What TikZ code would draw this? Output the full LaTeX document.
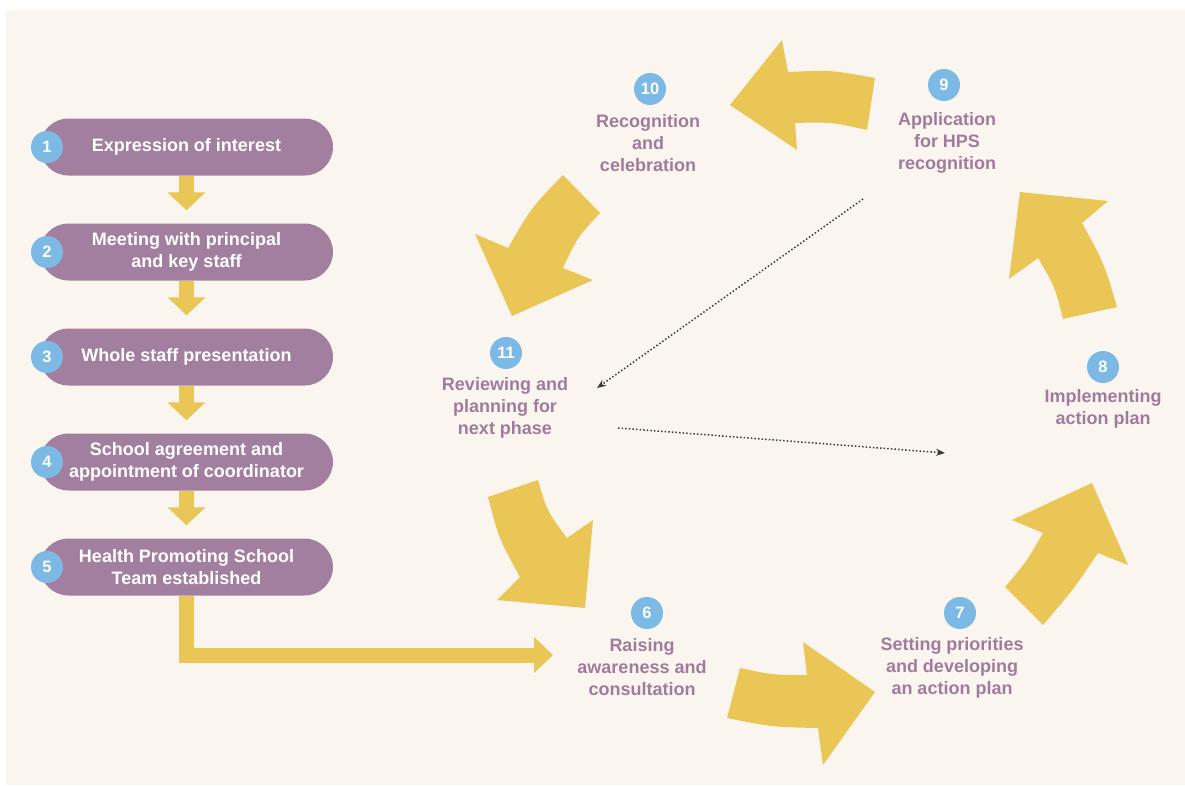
\documentclass[tikz,border=0pt]{standalone}
\usepackage{fontspec}
\setmainfont{Liberation Sans}
\usetikzlibrary{arrows.meta}
\definecolor{cream}{HTML}{FAF6EF}
\definecolor{pillc}{HTML}{A37F9F}
\definecolor{labc}{HTML}{A07B9C}
\definecolor{bluec}{HTML}{7CB9E4}
\definecolor{yelc}{HTML}{E9C655}
\definecolor{dotc}{HTML}{3A3A3A}
\tikzset{
  pill/.style={fill=pillc, rounded corners=28.5pt, minimum width=293pt, minimum height=57pt,
    text=white, align=center, font=\bfseries\fontsize{18}{22}\selectfont, inner sep=0pt},
  numc/.style={circle, fill=bluec, minimum size=32pt, inner sep=0pt, text=white,
    font=\bfseries\fontsize{16.5}{16.5}\selectfont},
  lab/.style={text=labc, align=center, font=\bfseries\fontsize{18}{22}\selectfont, inner sep=0pt},
  yarrow/.style={draw=yelc, line width=15pt, -{Triangle[width=37pt,length=18pt]}},
  bigarrow/.style={fill=yelc},
  dotarrow/.style={draw=dotc, line width=1.5pt, dash pattern=on 1.5pt off 2.1pt,
    -{Stealth[length=9pt,width=7pt]}}
}
\begin{document}
\begin{tikzpicture}[x=1pt,y=-1pt]
\useasboundingbox (0,0) rectangle (1185,785);
\fill[white] (0,0) rectangle (1185,785);
\fill[cream] (6,10) rectangle (1185,785);

% left column pills
\node[pill] (p1) at (186.5,147) {Expression of interest};
\node[pill] (p2) at (186.5,252) {Meeting with principal\\and key staff};
\node[pill] (p3) at (186.5,357) {Whole staff presentation};
\node[pill] (p4) at (186.5,462) {School agreement and\\appointment of coordinator};
\node[pill] (p5) at (186.5,567) {Health Promoting School\\Team established};
\node[numc] (n1) at (47,147) {1};
\node[numc] (n2) at (47,252) {2};
\node[numc] (n3) at (47,357) {3};
\node[numc] (n4) at (47,462) {4};
\node[numc] (n5) at (47,567) {5};

\draw[yarrow, shorten >=13pt] (p1.south) -- (p2.north);
\draw[yarrow, shorten >=13pt] (p2.south) -- (p3.north);
\draw[yarrow, shorten >=13pt] (p3.south) -- (p4.north);
\draw[yarrow, shorten >=13pt] (p4.south) -- (p5.north);
\coordinate (lend) at (553,655);
\draw[yarrow, -{Triangle[width=35pt,length=19pt]}] (p5.south) |- (lend);

% cycle labels
\node[numc] (c6) at (647,613) {6};
\node[lab] (l6) at (642,667) {Raising\\awareness and\\consultation};
\node[numc] (c7) at (960,613) {7};
\node[lab] (l7) at (952,668) {Setting priorities\\and developing\\an action plan};
\node[numc] (c8) at (1103,367) {8};
\node[lab] (l8) at (1103,409) {Implementing\\action plan};
\node[numc] (c9) at (944,85) {9};
\node[lab] (l9) at (947,143) {Application\\for HPS\\recognition};
\node[numc] (c10) at (650,89) {10};
\node[lab] (l10) at (648,143) {Recognition\\and\\celebration};
\node[numc] (c11) at (506,353) {11};
\node[lab] (l11) at (505,408) {Reviewing and\\planning for\\next phase};

% big curved arrows
\fill[bigarrow] (740,668) .. controls (773,675) .. (807,675) -- (803,642) -- (875,692)
  -- (823,765) -- (818,728) .. controls (772,727) .. (727,718) -- cycle;
\fill[bigarrow] (1005,587) .. controls (1027,561) .. (1043,533) -- (1012,520) -- (1092,483)
  -- (1128,565) -- (1098,553) .. controls (1073,590) .. (1043,625) -- cycle;
\fill[bigarrow] (1063,319) .. controls (1055,287) .. (1038,258) -- (1009,279) -- (1020,192)
  -- (1108,201) -- (1082,223) .. controls (1104,263) .. (1117,307) -- cycle;
\fill[bigarrow] (875,78) .. controls (831,70) .. (788,72) -- (782,40) -- (730,105)
  -- (797,150) -- (795,123) .. controls (831,122) .. (867,130) -- cycle;
\fill[bigarrow] (563,175) -- (600,213) .. controls (577,238) .. (563,268) -- (593,280)
  -- (512,316) -- (475,234) -- (508,248) .. controls (531,208) .. (563,175) -- cycle;
\fill[bigarrow] (488,497) -- (538,480) .. controls (547,511) .. (567,538) -- (593,520)
  -- (585,608) -- (497,600) -- (520,577) .. controls (499,539) .. (488,497) -- cycle;

% dotted arrows
\coordinate (d1s) at (863,199);
\coordinate (d1e) at (597,388);
\coordinate (d2s) at (618,428);
\coordinate (d2e) at (945,453);
\draw[dotarrow] (d1s) -- (d1e);
\draw[dotarrow] (d2s) -- (d2e);
\end{tikzpicture}
\end{document}
